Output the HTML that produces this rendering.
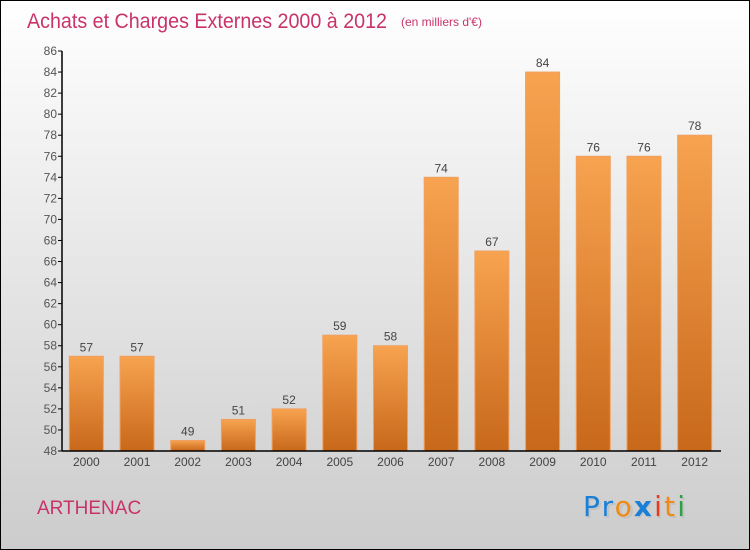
<!DOCTYPE html>
<html><head><meta charset="utf-8"><style>
body{margin:0}
#c{width:750px;height:550px;position:relative;box-sizing:border-box;border:1px solid #000;background:linear-gradient(#ffffff,#cccccc);font-family:"Liberation Sans",sans-serif;overflow:hidden}
</style></head><body>
<div id="c">
<svg width="750" height="550" style="position:absolute;left:-1px;top:-1px" id="s">
<defs><linearGradient id="g" x1="0" y1="0" x2="0" y2="1"><stop offset="0" stop-color="#f7a350"/><stop offset="1" stop-color="#c8681a"/></linearGradient></defs>
<text x="27" y="28" font-size="21" fill="#c8336a" textLength="360" lengthAdjust="spacingAndGlyphs">Achats et Charges Externes 2000 à 2012</text>
<text x="401" y="26" font-size="12" fill="#c8336a">(en milliers d'€)</text>
<text x="37" y="514" font-size="19" fill="#c8336a">ARTHENAC</text>
<g id="logo" font-size="28" font-family="'DejaVu Sans',sans-serif">
<text x="585" y="518" fill="#bbb" opacity=".6" textLength="102" lengthAdjust="spacing">Proxiti</text>
<text x="583" y="516" textLength="102" lengthAdjust="spacing"><tspan fill="#1a7fd6">Pr</tspan><tspan fill="#f08a16">o</tspan><tspan fill="#1a7fd6" font-weight="bold">x</tspan><tspan fill="#e63a1e">i</tspan><tspan fill="#f08a16">t</tspan><tspan fill="#2ea043">i</tspan></text>
</g>
<g id="plot"></g>
</svg>
</div>
<script>
const categories=["2000","2001","2002","2003","2004","2005","2006","2007","2008","2009","2010","2011","2012"];
const values=[57,57,49,51,52,59,58,74,67,84,76,76,78];
const yTicks=[48,50,52,54,56,58,60,62,64,66,68,70,72,74,76,78,80,82,84,86];
const NS="http://www.w3.org/2000/svg";
const x0=62,x1=721,yTop=51,yBot=451,vMin=48,vMax=86;
const step=(x1-x0)/categories.length;
function y(v){return yBot-(v-vMin)/(vMax-vMin)*(yBot-yTop);}
function xc(i){return x0+step*(i+0.5)-1;}
const g=document.getElementById('plot');
function el(t,a){const e=document.createElementNS(NS,t);for(const k in a)e.setAttribute(k,a[k]);g.appendChild(e);return e;}
values.forEach((v,i)=>{
 const r=el('rect',{x:xc(i)-17,y:y(v),width:34,height:yBot-y(v),fill:'url(#g)',stroke:'#f0a060','stroke-width':1});
 
 
 const t=el('text',{x:xc(i),y:y(v)-5,'text-anchor':'middle','font-size':12,fill:'#444'});
 t.textContent=v;
 
 
 const c=el('text',{x:xc(i),y:yBot+15,'text-anchor':'middle','font-size':12,fill:'#444'});
 c.textContent=categories[i];
 
 
});
yTicks.forEach(v=>{
 const l=el('line',{x1:x0-4,x2:x0,y1:y(v),y2:y(v),stroke:'#000'});
 
 
 const t=el('text',{x:x0-5,y:y(v)+4,'text-anchor':'end','font-size':12,fill:'#555'});
 t.textContent=v;
 
 
});
const ya=el('line',{x1:x0,x2:x0,y1:yTop,y2:yBot,stroke:'#000','stroke-width':1.5});


const xa=el('line',{x1:x0,x2:x1,y1:yBot,y2:yBot,stroke:'#000','stroke-width':1.5});


</script>
</body></html>
